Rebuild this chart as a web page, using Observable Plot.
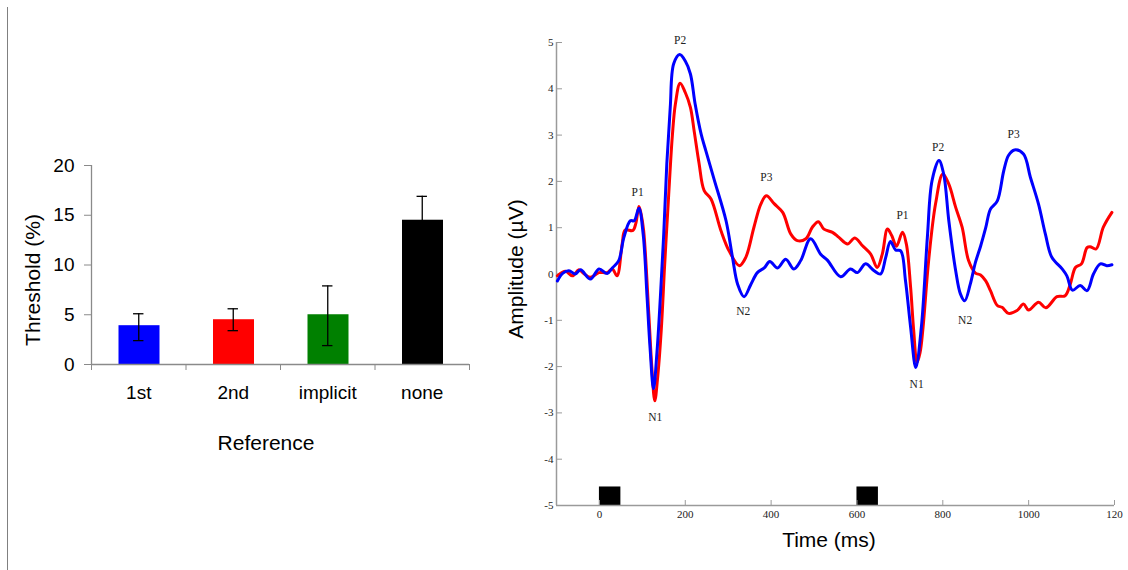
<!DOCTYPE html>
<html>
<head>
<meta charset="utf-8">
<script src="https://cdn.jsdelivr.net/npm/d3@7"></script>
<script src="https://cdn.jsdelivr.net/npm/@observablehq/plot@0.6"></script>
<style>
  html, body { margin: 0; padding: 0; background: #fff; }
  #wrap { position: relative; width: 1128px; height: 570px; overflow: hidden; background: #fff; }
  .panel { position: absolute; top: 0; }
  .lbl { position: absolute; font-family: "Liberation Sans", Arial, sans-serif; font-size: 21px; color: #000; white-space: nowrap; transform: translate(-50%, -50%); }
  .rot { transform: translate(-50%, -50%) rotate(-90deg); }
  #divider { position: absolute; left: 6.5px; top: 7px; width: 1.4px; height: 563px; background: #808080; }
</style>
</head>
<body>
<div id="wrap">
  <div id="divider"></div>
  <div id="left" class="panel" style="left:0"></div>
  <div id="right" class="panel" style="left:490px"></div>
  <div class="lbl rot" style="left:33px; top:280px">Threshold (%)</div>
  <div class="lbl" style="left:266px; top:443px">Reference</div>
  <div class="lbl rot" style="left:516px; top:269px">Amplitude (µV)</div>
  <div class="lbl" style="left:829px; top:540px">Time (ms)</div>
</div>
<script>
// ---------- Left panel data ----------
const categories = ["1st", "2nd", "implicit", "none"];
const thresholds = [3.9, 4.5, 5.0, 14.5];
const errHigh = [5.1, 5.6, 7.9, 16.9];
const errLow = [2.4, 3.4, 1.9, 12.1];
const barColors = ["#0000ff", "#ff0000", "#008000", "#000000"];
const thresholdTicks = [0, 5, 10, 15, 20];

// ---------- Right panel data ----------
const blueTime = [-98, -85, -71, -56, -44, -21, -1, 18, 30, 45, 57, 72, 81, 92, 102, 111, 118, 126, 134, 142, 150, 157, 165, 173, 187, 200, 212, 223, 237, 248, 267, 295, 310, 322, 337, 353, 368, 384, 397, 415, 434, 453, 469, 492, 516, 531, 562, 585, 601, 620, 640, 655, 667, 678, 690, 702, 713, 725, 737, 750, 764, 775, 791, 802, 814, 830, 841, 851, 864, 876, 888, 900, 911, 927, 942, 953, 967, 988, 1004, 1023, 1039, 1054, 1078, 1089, 1102, 1120, 1136, 1151, 1167, 1182, 1194];
const blueAmp = [-0.15, 0.02, 0.07, 0.0, 0.09, -0.11, 0.11, 0.01, 0.13, 0.29, 0.79, 1.15, 1.15, 1.42, 0.85, -0.5, -1.6, -2.48, -1.7, -0.5, 0.9, 2.38, 3.6, 4.54, 4.74, 4.6, 4.32, 3.67, 3.02, 2.66, 2.05, 1.15, 0.36, -0.22, -0.49, -0.22, 0.03, 0.13, 0.27, 0.13, 0.32, 0.11, 0.29, 0.76, 0.42, 0.3, -0.06, 0.11, 0.03, 0.22, 0.07, 0.0, 0.36, 0.7, 0.52, 0.5, -0.14, -1.15, -2.02, -1.15, 0.79, 2.02, 2.45, 2.16, 1.15, 0.07, -0.43, -0.58, -0.22, 0.25, 0.6, 1.0, 1.4, 1.58, 2.23, 2.56, 2.68, 2.59, 2.09, 1.51, 0.86, 0.36, 0.11, -0.04, -0.35, -0.25, -0.36, 0.0, 0.22, 0.18, 0.2];
const redTime = [-98, -79, -63, -48, -35, -21, -1, 18, 30, 41, 53, 60, 78, 85, 92, 97, 103, 115, 122, 129, 136, 144, 152, 161, 170, 177, 188, 200, 212, 221, 232, 244, 260, 283, 302, 326, 341, 360, 376, 389, 407, 427, 446, 461, 481, 496, 510, 523, 543, 558, 578, 595, 613, 632, 647, 659, 671, 681, 692, 706, 715, 725, 732, 740, 747, 754, 767, 783, 800, 814, 830, 845, 860, 876, 888, 900, 911, 927, 938, 953, 973, 988, 1000, 1023, 1040, 1066, 1085, 1097, 1109, 1123, 1136, 1143, 1157, 1174, 1194];
const redAmp = [-0.04, 0.06, -0.04, 0.09, 0.0, -0.07, 0.03, 0.03, 0.11, -0.04, 0.65, 0.95, 0.94, 1.1, 1.46, 1.3, 0.94, -0.86, -2.0, -2.74, -2.2, -1.22, 0.2, 1.65, 3.0, 3.67, 4.12, 3.92, 3.6, 3.07, 2.4, 1.8, 1.62, 0.94, 0.5, 0.18, 0.36, 1.01, 1.51, 1.69, 1.52, 1.33, 0.86, 0.72, 0.76, 1.01, 1.13, 0.97, 0.9, 0.79, 0.65, 0.78, 0.61, 0.43, 0.14, 0.43, 0.97, 0.83, 0.6, 0.9, 0.65, -0.29, -1.2, -1.91, -1.7, -1.15, 0.29, 1.51, 2.16, 1.94, 1.44, 1.01, 0.29, 0.02, -0.02, -0.15, -0.36, -0.68, -0.72, -0.85, -0.79, -0.65, -0.78, -0.61, -0.73, -0.49, -0.47, -0.22, 0.14, 0.22, 0.57, 0.59, 0.54, 1.01, 1.33];
const peakNames = ["P1", "P2", "P3", "N1", "N2", "P1", "P2", "P3", "N1", "N2"];
const peakTime = [89, 188, 389, 130, 335, 706, 789, 965, 739, 852];
const peakAmp = [1.76, 5.05, 2.09, -3.1, -0.81, 1.27, 2.73, 3.02, -2.39, -0.99];
const stimStart = [0, 600];
const stimEnd = [50, 650];
const stimBottom = [-5, -5];
const stimTop = [-4.6, -4.6];
const timeDomain = [-100, 1200];
const ampDomain = [-5, 5];
const timeTicks = [0, 200, 400, 600, 800, 1000, 1200];
const timeTickLabels = ["0", "200", "400", "600", "800", "1000", "120"];
const ampTicks = [-5, -4, -3, -2, -1, 0, 1, 2, 3, 4, 5];

// ---------- Left panel ----------
const bars = categories.map((c, i) => ({c, i, v: thresholds[i], lo: errLow[i], hi: errHigh[i], color: barColors[i]}));
const catIdx = categories.map((c, i) => i);
const leftPlot = Plot.plot({
  width: 490, height: 570,
  marginLeft: 91, marginRight: 21, marginTop: 165, marginBottom: 206,
  x: {domain: [0, categories.length]},
  y: {domain: [0, 20]},
  style: {fontFamily: "'Liberation Sans', Arial, sans-serif", fontSize: "19px", color: "#000", background: "transparent"},
  marks: [
    Plot.rectY(bars, {x1: d => d.i, x2: d => d.i + 1, y: "v", fill: d => d.color, insetLeft: 27.5, insetRight: 26}),
    Plot.ruleX(bars, {x: d => d.i + 0.5, y1: "lo", y2: "hi", stroke: "#000", strokeWidth: 1.3}),
    Plot.ruleY(bars, {y: "hi", x1: d => d.i + 0.445, x2: d => d.i + 0.555, stroke: "#000", strokeWidth: 1.3}),
    Plot.ruleY(bars, {y: "lo", x1: d => d.i + 0.445, x2: d => d.i + 0.555, stroke: "#000", strokeWidth: 1.3}),
    Plot.ruleY([0], {stroke: "#8a8a8a", strokeWidth: 1.3}),
    Plot.ruleX([0], {y1: 0, y2: 20, stroke: "#8a8a8a", strokeWidth: 1.3}),
    Plot.axisY({ticks: thresholdTicks, tickSize: 7, tickPadding: 10, stroke: "#8a8a8a", label: null, fontSize: 19}),
    Plot.axisX({ticks: catIdx.concat([categories.length]), tickFormat: () => "", tickSize: 6, stroke: "#8a8a8a", label: null}),
    Plot.axisX({ticks: catIdx.map(i => i + 0.5), tickFormat: d => categories[Math.floor(d)], tickSize: 0, tickPadding: 21, label: null, fontSize: 19})
  ]
});
document.getElementById("left").appendChild(leftPlot);

// ---------- Right panel ----------
const blue = blueTime.map((t, i) => ({t, v: blueAmp[i]}));
const red = redTime.map((t, i) => ({t, v: redAmp[i]}));
const peaks = peakNames.map((n, i) => ({n, t: peakTime[i], v: peakAmp[i]}));
const stim = stimStart.map((s, i) => ({x1: s, x2: stimEnd[i], y1: stimBottom[i], y2: stimTop[i]}));
const rightPlot = Plot.plot({
  width: 638, height: 570,
  marginLeft: 66, marginRight: 14, marginTop: 42, marginBottom: 65,
  x: {domain: timeDomain},
  y: {domain: ampDomain},
  style: {fontFamily: "'Liberation Serif', 'Times New Roman', serif", fontSize: "11px", color: "#222", background: "transparent"},
  marks: [
    Plot.rect(stim, {x1: "x1", x2: "x2", y1: "y1", y2: "y2", fill: "#000"}),
    Plot.ruleX([timeDomain[0]], {y1: ampDomain[0], y2: ampDomain[1], stroke: "#9a9a9a", strokeWidth: 1.5}),
    Plot.ruleY([ampDomain[0]], {stroke: "#9a9a9a", strokeWidth: 1.5}),
    Plot.axisY({ticks: ampTicks, tickFormat: d => String(d), tickSize: 6, dx: 6, tickPadding: 3, stroke: "#9a9a9a", label: null, fontSize: 11}),
    Plot.axisX({ticks: timeTicks, tickFormat: (d, i) => timeTickLabels[timeTicks.indexOf(d)], tickSize: 5, dy: -5, tickPadding: 5, stroke: "#9a9a9a", label: null, fontSize: 11}),
    Plot.line(red, {x: "t", y: "v", stroke: "#ff0000", strokeWidth: 3, curve: "catmull-rom"}),
    Plot.line(blue, {x: "t", y: "v", stroke: "#0000ff", strokeWidth: 3, curve: "catmull-rom"}),
    Plot.text(peaks, {x: "t", y: "v", text: "n", fontSize: 11.5, fill: "#222"})
  ]
});
document.getElementById("right").appendChild(rightPlot);
</script>
</body>
</html>
